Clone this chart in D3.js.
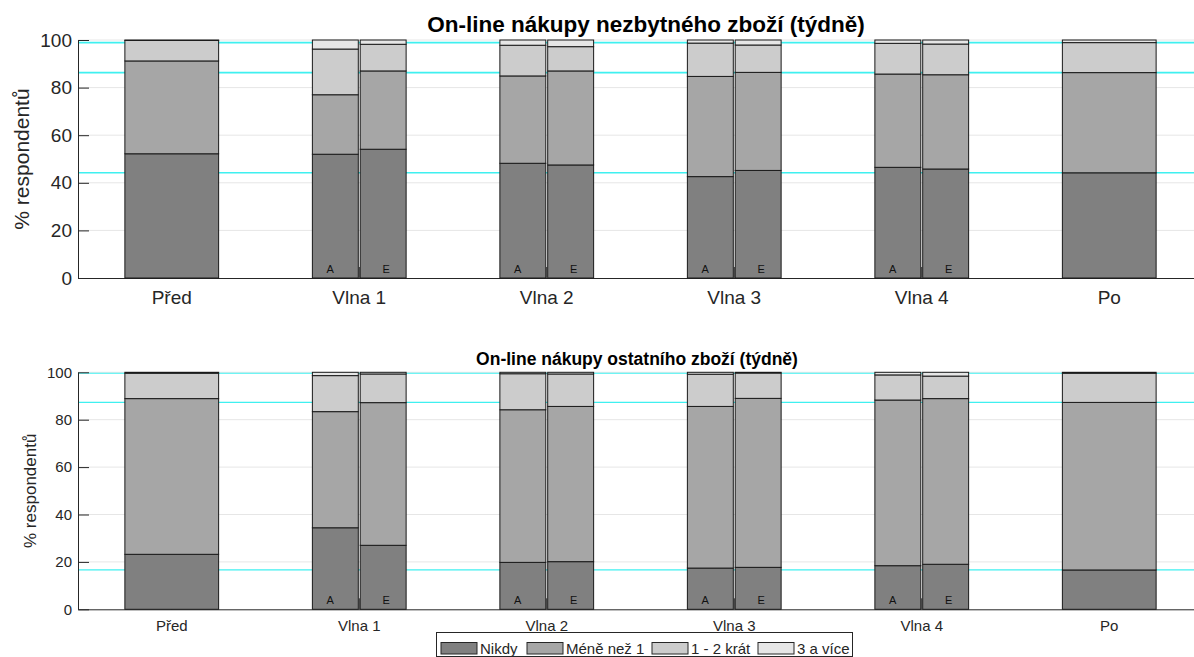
<!DOCTYPE html>
<html>
<head>
<meta charset="utf-8">
<script src="https://cdn.jsdelivr.net/npm/d3@7"></script>
<style>
  html, body { margin: 0; padding: 0; background: #fff; }
  svg { display: block; font-family: "Liberation Sans", Arial, sans-serif; }
</style>
</head>
<body>
<svg id="chart" width="1194" height="657"></svg>
<script>
// Categories, bars and series
const categories = ["Před", "Vlna 1", "Vlna 2", "Vlna 3", "Vlna 4", "Po"];
const modes = ["A", "E"];
const seriesNames = ["Nikdy", "Méně než 1", "1 - 2 krát", "3 a více"];
const seriesColors = ["#808080", "#a6a6a6", "#cccccc", "#e6e6e6"];
const barCategory = ["Před", "Vlna 1", "Vlna 1", "Vlna 2", "Vlna 2", "Vlna 3", "Vlna 3", "Vlna 4", "Vlna 4", "Po"];
const barMode = [null, "A", "E", "A", "E", "A", "E", "A", "E", null];
const yTicks = [0, 20, 40, 60, 80, 100];

// On-line nákupy nezbytného zboží (% respondentů)
const essentialNikdy = [52.2, 52.0, 54.1, 48.2, 47.5, 42.6, 45.2, 46.5, 45.8, 44.2];
const essentialMene  = [39.0, 25.0, 32.9, 36.7, 39.5, 42.1, 41.2, 39.2, 39.6, 42.1];
const essential12    = [8.6, 19.2, 11.2, 12.9, 10.2, 14.0, 11.5, 12.9, 12.9, 12.6];
const essential3     = [0.2, 3.8, 1.8, 2.2, 2.8, 1.3, 2.1, 1.4, 1.7, 1.1];

// On-line nákupy ostatního zboží (% respondentů)
const otherNikdy = [23.2, 34.4, 27.0, 19.8, 20.1, 17.4, 17.7, 18.4, 19.0, 16.6];
const otherMene  = [65.7, 49.0, 60.2, 64.4, 65.5, 68.2, 71.3, 69.9, 69.9, 70.7];
const other12    = [10.7, 15.2, 12.1, 15.2, 13.7, 13.6, 10.7, 10.6, 9.5, 12.3];
const other3     = [0.4, 1.4, 0.7, 0.6, 0.7, 0.8, 0.3, 1.1, 1.6, 0.4];

const svg = d3.select("#chart");
const textColor = "#262626";
const plotLeft = 78, plotRight = 1203;

const x = d3.scaleBand()
  .domain(categories)
  .range([plotLeft, plotRight])
  .paddingInner(0.5)
  .paddingOuter(0.25);

const xMode = d3.scaleBand()
  .domain(modes)
  .range([-x.bandwidth() / 2, x.bandwidth() / 2])
  .paddingInner(0.04);

function drawPanel(cfg) {
  const y = d3.scaleLinear().domain([0, 100]).range([cfg.bottom, cfg.top]);
  const g = svg.append("g");

  const rows = barCategory.map((c, i) => ({
    category: c,
    mode: barMode[i],
    [seriesNames[0]]: cfg.values[0][i],
    [seriesNames[1]]: cfg.values[1][i],
    [seriesNames[2]]: cfg.values[2][i],
    [seriesNames[3]]: cfg.values[3][i]
  }));
  const stacked = d3.stack().keys(seriesNames)(rows);

  // grid lines
  g.append("g")
    .selectAll("line")
    .data(yTicks.filter(t => t > 0))
    .join("line")
    .attr("x1", plotLeft).attr("x2", plotRight)
    .attr("y1", d => y(d)).attr("y2", d => y(d))
    .attr("stroke", "#e6e6e6")
    .attr("stroke-width", 1);

  // reference lines at the cumulative shares of the last bar ("Po")
  const lastIdx = rows.length - 1;
  const refs = stacked.slice(0, 3).map(s => s[lastIdx][1]);
  g.append("g")
    .selectAll("line")
    .data(refs)
    .join("line")
    .attr("x1", plotLeft).attr("x2", plotRight)
    .attr("y1", d => y(d)).attr("y2", d => y(d))
    .attr("stroke", "#3ff0f0")
    .attr("stroke-width", cfg.refWidth);

  // y axis
  const yAxis = g.append("g")
    .attr("transform", `translate(${plotLeft},0)`)
    .call(d3.axisLeft(y).tickValues(yTicks).tickSize(-11).tickSizeOuter(0).tickPadding(6));
  yAxis.select(".domain").attr("stroke", textColor);
  yAxis.selectAll(".tick line").attr("stroke", textColor);
  yAxis.selectAll(".tick text")
    .attr("fill", textColor)
    .attr("font-size", cfg.tickFont)
    .attr("font-family", "Liberation Sans, Arial, sans-serif");

  // x axis (drawn beneath the bars, so ticks show only in the gaps)
  const xAxis = g.append("g")
    .attr("transform", `translate(0,${cfg.bottom})`)
    .call(d3.axisBottom(x).tickSize(-11).tickSizeOuter(0).tickPadding(cfg.xPad));
  xAxis.select(".domain").attr("stroke", textColor);
  xAxis.selectAll(".tick line").attr("stroke", textColor);
  xAxis.selectAll(".tick text")
    .attr("fill", textColor)
    .attr("font-size", cfg.tickFont)
    .attr("font-family", "Liberation Sans, Arial, sans-serif");

  // stacked bars
  const barX = r => r.mode ? x(r.category) + x.bandwidth() / 2 + xMode(r.mode) : x(r.category);
  const barW = r => r.mode ? xMode.bandwidth() : x.bandwidth();
  stacked.forEach((s, si) => {
    g.append("g")
      .selectAll("rect")
      .data(s)
      .join("rect")
      .attr("x", d => barX(d.data))
      .attr("width", d => barW(d.data))
      .attr("y", d => y(d[1]))
      .attr("height", d => y(d[0]) - y(d[1]))
      .attr("fill", seriesColors[si])
      .attr("stroke", "#1a1a1a")
      .attr("stroke-width", 1);
  });

  // A / E labels inside wave bars
  g.append("g")
    .selectAll("text")
    .data(rows.filter(r => r.mode))
    .join("text")
    .attr("x", r => x(r.category) + x.bandwidth() / 2 + (r.mode === "A" ? -29 : 27))
    .attr("y", cfg.bottom - 5)
    .attr("text-anchor", "middle")
    .attr("font-size", 11)
    .attr("fill", "#111")
    .text(r => r.mode);

  // y label
  g.append("text")
    .attr("transform", `translate(${cfg.labelX},${(cfg.top + cfg.bottom) / 2}) rotate(-90)`)
    .attr("text-anchor", "middle")
    .attr("dy", "0.35em")
    .attr("font-size", cfg.labelFont)
    .attr("fill", textColor)
    .text("% respondentů");

  // title
  g.append("text")
    .attr("x", cfg.titleX)
    .attr("y", cfg.titleY)
    .attr("text-anchor", "middle")
    .attr("font-size", cfg.titleFont)
    .attr("font-weight", "bold")
    .attr("fill", "#000")
    .text(cfg.title);
}

drawPanel({
  title: "On-line nákupy nezbytného zboží (týdně)",
  values: [essentialNikdy, essentialMene, essential12, essential3],
  top: 40, bottom: 278,
  tickFont: 19, labelFont: 21, titleFont: 22.5,
  titleX: 646, titleY: 32, labelX: 22, xPad: 13, refWidth: 1.6
});

drawPanel({
  title: "On-line nákupy ostatního zboží (týdně)",
  values: [otherNikdy, otherMene, other12, other3],
  top: 372.3, bottom: 609.3,
  tickFont: 15, labelFont: 17, titleFont: 17.5,
  titleX: 637, titleY: 365, labelX: 30, xPad: 11, refWidth: 1.2
});

// legend
const legend = svg.append("g");
legend.append("rect")
  .attr("x", 436.5).attr("y", 632.5)
  .attr("width", 416).attr("height", 24)
  .attr("fill", "#fff")
  .attr("stroke", "#262626")
  .attr("stroke-width", 1);
const legendX = [441, 527, 652, 758];
seriesNames.forEach((name, i) => {
  legend.append("rect")
    .attr("x", legendX[i]).attr("y", 642.5)
    .attr("width", 36).attr("height", 11.5)
    .attr("fill", seriesColors[i])
    .attr("stroke", "#262626")
    .attr("stroke-width", 1);
  legend.append("text")
    .attr("x", legendX[i] + 39)
    .attr("y", 654)
    .attr("font-size", 15)
    .attr("fill", textColor)
    .text(name);
});
</script>
</body>
</html>
